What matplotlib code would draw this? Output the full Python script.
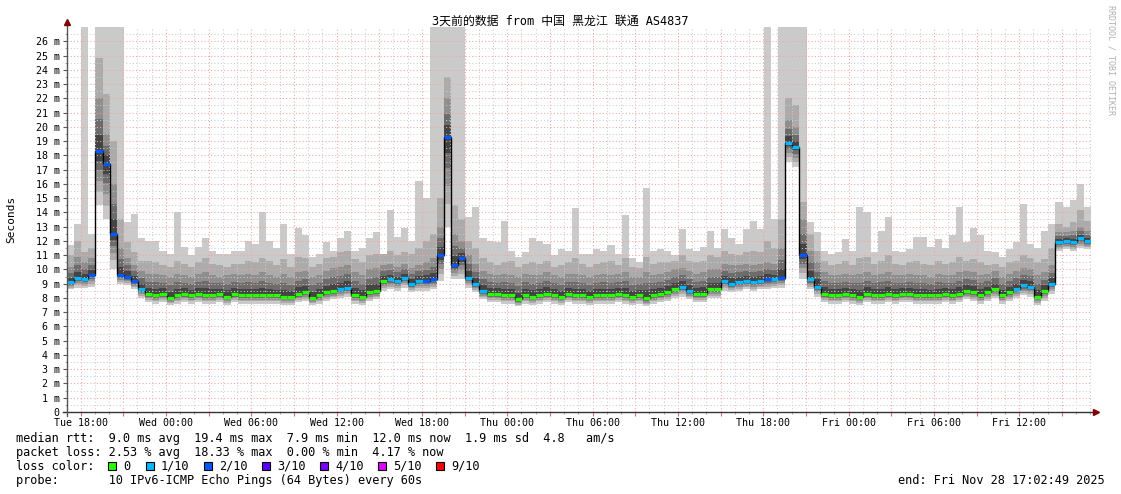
import matplotlib
matplotlib.use("Agg")
import matplotlib.pyplot as plt
from matplotlib.patches import Rectangle
import numpy as np
from datetime import datetime, timedelta

# ---------------- data ----------------
TITLE = "3天前的数据 from 中国 黑龙江 联通 AS4837"
END_TIME = datetime(2025, 11, 28, 17, 2, 49)
SPAN_HOURS = 72
STEP_MIN = 30

# median rtt per 30-min step (ms)
rtt_median = [
    9.1, 9.4, 9.3, 9.6, 18.3, 17.4, 12.5, 9.6, 9.5, 9.2, 8.6, 8.3,
    8.2, 8.3, 8.0, 8.2, 8.3, 8.2, 8.3, 8.2, 8.2, 8.3, 8.1, 8.3,
    8.2, 8.2, 8.2, 8.2, 8.2, 8.2, 8.1, 8.1, 8.3, 8.4, 8.0, 8.2,
    8.4, 8.5, 8.6, 8.7, 8.2, 8.1, 8.4, 8.5, 9.2, 9.3, 9.2, 9.4,
    9.0, 9.2, 9.2, 9.3, 11.0, 19.3, 10.3, 10.8, 9.4, 9.0, 8.5, 8.3,
    8.3, 8.2, 8.2, 7.9, 8.2, 8.1, 8.2, 8.3, 8.2, 8.1, 8.3, 8.2,
    8.2, 8.1, 8.2, 8.2, 8.2, 8.3, 8.2, 8.1, 8.2, 8.0, 8.2, 8.3,
    8.4, 8.6, 8.8, 8.5, 8.3, 8.3, 8.6, 8.6, 9.2, 9.0, 9.1, 9.2,
    9.1, 9.2, 9.3, 9.3, 9.4, 18.9, 18.6, 11.0, 9.3, 8.8, 8.3, 8.2,
    8.2, 8.3, 8.2, 8.1, 8.3, 8.2, 8.2, 8.3, 8.2, 8.3, 8.3, 8.2,
    8.2, 8.2, 8.2, 8.3, 8.2, 8.3, 8.5, 8.4, 8.2, 8.4, 8.6, 8.2,
    8.4, 8.6, 8.9, 8.8, 8.1, 8.5, 9.0, 11.9, 12.0, 11.9, 12.2, 12.0,
]
# pings lost out of 10 per step
loss_count = [
    1, 1, 1, 2, 2, 2, 2, 2, 2, 2, 1, 0,
    0, 0, 0, 0, 0, 0, 0, 0, 0, 0, 0, 0,
    0, 0, 0, 0, 0, 0, 0, 0, 0, 0, 0, 0,
    0, 0, 1, 1, 0, 0, 0, 0, 0, 1, 1, 1,
    1, 1, 2, 2, 2, 2, 2, 2, 1, 1, 1, 0,
    0, 0, 0, 0, 0, 0, 0, 0, 0, 0, 0, 0,
    0, 0, 0, 0, 0, 0, 0, 0, 0, 0, 0, 0,
    0, 0, 1, 1, 0, 0, 0, 0, 1, 1, 1, 1,
    1, 1, 2, 1, 2, 1, 1, 2, 1, 1, 0, 0,
    0, 0, 0, 0, 0, 0, 0, 0, 0, 0, 0, 0,
    0, 0, 0, 0, 0, 0, 0, 0, 0, 0, 0, 0,
    0, 1, 1, 1, 0, 0, 1, 1, 1, 1, 1, 1,
]
# fastest ping per step
rtt_min = [
    8.6, 8.7, 8.7, 8.8, 14.5, 13.5, 10.0, 9.0, 8.9, 8.6, 8.0, 7.7,
    7.6, 7.7, 7.5, 7.6, 7.7, 7.6, 7.7, 7.6, 7.6, 7.7, 7.5, 7.7,
    7.6, 7.6, 7.6, 7.6, 7.6, 7.6, 7.5, 7.5, 7.7, 7.8, 7.5, 7.6,
    7.8, 7.9, 8.0, 8.1, 7.6, 7.5, 7.8, 7.9, 8.5, 8.6, 8.5, 8.7,
    8.4, 8.5, 8.5, 8.6, 9.2, 13.0, 9.3, 9.3, 8.7, 8.4, 7.9, 7.7,
    7.7, 7.6, 7.6, 7.4, 7.6, 7.5, 7.6, 7.7, 7.6, 7.5, 7.7, 7.6,
    7.6, 7.5, 7.6, 7.6, 7.6, 7.7, 7.6, 7.5, 7.6, 7.4, 7.6, 7.7,
    7.8, 8.0, 8.1, 7.9, 7.7, 7.7, 8.0, 8.0, 8.5, 8.4, 8.5, 8.6,
    8.5, 8.6, 8.6, 8.7, 8.7, 17.5, 17.2, 9.3, 8.6, 8.1, 7.7, 7.6,
    7.6, 7.7, 7.6, 7.5, 7.7, 7.6, 7.6, 7.7, 7.6, 7.7, 7.7, 7.6,
    7.6, 7.6, 7.6, 7.7, 7.6, 7.7, 7.9, 7.8, 7.6, 7.8, 8.0, 7.6,
    7.8, 8.0, 8.2, 8.1, 7.5, 7.8, 8.3, 11.3, 11.4, 11.3, 11.5, 11.4,
]
# 8th of 10 sorted pings
rtt_p80 = [
    10.2, 10.9, 10.5, 10.8, 22.0, 19.5, 16.0, 11.5, 10.8, 10.3, 9.9, 9.7,
    9.7, 9.6, 9.5, 9.7, 9.6, 9.5, 9.7, 9.8, 9.6, 9.5, 9.6, 9.7,
    9.6, 9.7, 9.6, 9.8, 9.6, 9.5, 9.7, 9.5, 9.8, 9.9, 9.5, 9.6,
    9.9, 10.1, 10.2, 10.3, 9.8, 9.6, 10.0, 10.1, 10.3, 10.4, 10.2, 10.4,
    10.1, 10.3, 10.5, 10.8, 13.0, 22.0, 12.5, 12.0, 11.0, 10.4, 9.9, 9.7,
    9.6, 9.7, 9.6, 9.5, 9.7, 9.6, 9.6, 9.8, 9.6, 9.5, 9.7, 9.7,
    9.6, 9.5, 9.6, 9.7, 9.6, 9.7, 9.8, 9.5, 9.5, 9.8, 9.6, 9.7,
    9.8, 10.0, 10.1, 9.9, 9.7, 9.8, 10.0, 10.0, 10.4, 10.3, 10.3, 10.4,
    10.3, 10.4, 10.5, 10.4, 11.5, 20.5, 20.0, 13.5, 11.3, 10.5, 9.8, 9.6,
    9.6, 9.7, 9.6, 9.7, 9.8, 9.6, 9.7, 9.8, 9.6, 9.6, 9.7, 9.6,
    9.6, 9.5, 9.7, 9.6, 9.6, 9.8, 9.9, 9.8, 9.6, 9.7, 9.9, 9.5,
    9.7, 9.9, 10.1, 10.0, 9.6, 9.8, 10.3, 12.6, 12.6, 12.7, 13.0, 12.7,
]
# 9th of 10 sorted pings
rtt_p90 = [
    11.0, 12.0, 11.2, 11.5, 24.8, 22.3, 19.0, 13.5, 11.9, 11.2, 10.6, 10.6,
    10.5, 10.3, 10.2, 10.6, 10.4, 10.2, 10.5, 10.8, 10.4, 10.3, 10.2, 10.4,
    10.4, 10.6, 10.5, 10.8, 10.6, 10.3, 10.7, 10.2, 10.9, 10.8, 10.2, 10.4,
    10.8, 10.9, 11.2, 11.3, 10.7, 10.5, 11.0, 11.1, 11.1, 11.3, 11.0, 11.2,
    11.1, 11.5, 12.0, 12.5, 15.0, 23.5, 14.5, 13.5, 12.0, 11.5, 10.8, 10.5,
    10.3, 10.5, 10.6, 10.2, 10.4, 10.5, 10.4, 10.6, 10.2, 10.3, 10.5, 10.8,
    10.4, 10.2, 10.4, 10.5, 10.6, 10.3, 10.8, 10.2, 10.1, 10.9, 10.4, 10.5,
    10.5, 10.6, 11.0, 10.6, 10.5, 10.6, 11.0, 10.9, 11.3, 11.1, 11.0, 11.2,
    11.3, 11.2, 12.0, 11.5, 13.5, 22.0, 21.5, 14.7, 12.5, 11.3, 10.6, 10.3,
    10.4, 10.6, 10.3, 10.8, 10.9, 10.4, 10.6, 11.0, 10.4, 10.3, 10.5, 10.6,
    10.4, 10.3, 10.6, 10.4, 10.5, 10.9, 10.6, 10.7, 10.5, 10.3, 10.4, 10.2,
    10.5, 10.6, 11.0, 10.8, 10.5, 10.7, 11.5, 13.2, 13.0, 13.3, 14.2, 13.4,
]
# slowest ping per step (27 = off the top of the graph)
rtt_max = [
    11.7, 13.2, 27, 12.5, 27, 27, 27, 27, 13.3, 13.9, 12.2, 12.0,
    12.0, 11.3, 11.1, 14.0, 11.6, 11.0, 11.6, 12.2, 11.3, 11.1, 11.1, 11.3,
    11.3, 12.0, 11.8, 14.0, 12.0, 11.5, 13.2, 11.1, 12.9, 12.4, 10.9, 11.1,
    11.9, 11.3, 12.2, 12.7, 11.3, 11.5, 12.2, 12.6, 11.1, 14.2, 12.3, 12.9,
    12.0, 16.2, 15.0, 27, 27, 27, 27, 27, 13.7, 14.4, 12.2, 12.0,
    11.9, 13.4, 11.3, 10.9, 11.2, 12.2, 12.0, 11.8, 11.0, 11.4, 11.3, 14.3,
    11.1, 11.1, 11.4, 11.3, 11.7, 11.1, 13.8, 10.8, 10.5, 15.7, 11.3, 11.4,
    11.3, 11.0, 12.8, 11.4, 11.3, 11.6, 12.7, 11.5, 12.8, 12.2, 11.8, 12.8,
    13.4, 12.8, 27, 13.5, 27, 27, 27, 27, 13.3, 12.6, 11.3, 11.1,
    11.2, 12.1, 11.3, 14.4, 14.0, 11.2, 12.7, 13.7, 11.3, 11.2, 11.4, 12.3,
    12.3, 11.6, 12.1, 11.5, 12.4, 14.4, 11.9, 12.9, 12.4, 11.3, 11.2, 10.9,
    11.4, 11.9, 14.6, 11.8, 11.5, 12.7, 13.2, 14.7, 14.4, 14.9, 16.0, 14.4,
]

x_tick_labels = ["Tue 18:00", "Wed 00:00", "Wed 06:00", "Wed 12:00", "Wed 18:00",
                 "Thu 00:00", "Thu 06:00", "Thu 12:00", "Thu 18:00",
                 "Fri 00:00", "Fri 06:00", "Fri 12:00"]
y_ticks = list(range(0, 27))

loss_labels = ["0", "1/10", "2/10", "3/10", "4/10", "5/10", "9/10"]
loss_colors = ["#26ff00", "#00b8ff", "#0059ff", "#5e00ff", "#7e00ff", "#dd00ff", "#ff0000"]
loss_level_of_count = {0: 0, 1: 1, 2: 2, 3: 3, 4: 4, 5: 5}

legend_rtt = "median rtt:  9.0 ms avg  19.4 ms max  7.9 ms min  12.0 ms now  1.9 ms sd  4.8   am/s"
legend_loss = "packet loss: 2.53 % avg  18.33 % max  0.00 % min  4.17 % now"
legend_probe = "probe:       10 IPv6-ICMP Echo Pings (64 Bytes) every 60s"
legend_end = "end: Fri Nov 28 17:02:49 2025"

# ---------------- figure ----------------
plt.rcParams['font.family'] = ['DejaVu Sans Mono', 'Noto Sans CJK SC']
plt.rcParams['lines.scale_dashes'] = False

W, H = 1121, 494
fig = plt.figure(figsize=(W / 100, H / 100), dpi=100)
fig.patch.set_facecolor("white")
PL, PR, PT, PB = 67, 1091, 27, 412
ax = fig.add_axes([PL / W, 1 - PB / H, (PR - PL) / W, (PB - PT) / H])
YMAX = 27.0
ax.set_xlim(0, SPAN_HOURS)
ax.set_ylim(0, YMAX)
for s in ax.spines.values():
    s.set_visible(False)

n = len(rtt_median)
edges = np.arange(n + 1) * STEP_MIN / 60.0
med = np.array(rtt_median, float)
mn = np.array(rtt_min, float)
p80 = np.array(rtt_p80, float)
p90 = np.array(rtt_p90, float)
mx = np.minimum(np.array(rtt_max, float), YMAX)

# smoke bands (outer = light, inner = dark)
lo2 = mn + 0.25 * (med - mn)
lo3 = mn + 0.45 * (med - mn)
lo4 = mn + 0.65 * (med - mn)
up2 = med + 0.6 * (p80 - med)
up1 = med + 0.3 * (p80 - med)
bands = [
    (mn, mx, "#cacaca"),
    (lo2, p90, "#ababab"),
    (lo3, p80, "#8e8e8e"),
    (lo4, up2, "#6c6c6c"),
    (lo4 + 0.5 * (med - lo4), up1, "#444444"),
]
for lo, hi, c in bands:
    ax.stairs(hi, edges, baseline=lo, fill=True, color=c, lw=0, zorder=1)

# grid
start = END_TIME - timedelta(hours=SPAN_HOURS)
first_hour = (start.replace(minute=0, second=0) + timedelta(hours=1))
hour_pos, hour_val = [], []
t = first_hour
while t < END_TIME:
    hour_pos.append((t - start).total_seconds() / 3600.0)
    hour_val.append(t.hour)
    t += timedelta(hours=1)
dots = (0, (0.75, 1.6))
GRID_C = "#cdcdcd"
MGRID_C = "#f3a3a3"
for hp, hv in zip(hour_pos, hour_val):
    ax.axvline(hp, color=MGRID_C if hv % 3 == 0 else GRID_C, lw=0.75, ls=dots,
               zorder=2)
for yv in np.arange(0.5, YMAX, 1.0):
    ax.axhline(yv, color=GRID_C, lw=0.75, ls=dots, zorder=2)
for yv in y_ticks[1:]:
    ax.axhline(yv, color=MGRID_C, lw=0.75, ls=dots, zorder=2)

# median line + loss colour
ax.stairs(med, edges, baseline=None, color="black", lw=1.0, zorder=3)
seg_cols = [loss_colors[loss_level_of_count[c]] for c in loss_count]
ax.hlines(med, edges[:-1], edges[1:], colors=seg_cols, lw=2.3, zorder=4,
          capstyle="butt")

# axes lines and arrows
ax.plot([-4 / 1024, 1.0034], [0, 0], transform=ax.transAxes, color="#333333",
        lw=1.0, clip_on=False, zorder=5)
ax.plot([0, 0], [-4 / 385, 1.01], transform=ax.transAxes, color="#555555",
        lw=1.0, clip_on=False, zorder=5)
ax.plot([0], [1.012], marker="^", ms=5, color="#7f0000", transform=ax.transAxes,
        clip_on=False, zorder=6)
ax.plot([1.0045], [0], marker=">", ms=5, color="#7f0000", transform=ax.transAxes,
        clip_on=False, zorder=6)

# ticks
major_x = [hp for hp, hv in zip(hour_pos, hour_val) if hv % 3 == 0]
major_lbl = []
k = 0
for hp, hv in zip(hour_pos, hour_val):
    if hv % 3 == 0:
        if hv % 6 == 0 and k < len(x_tick_labels):
            major_lbl.append(x_tick_labels[k]); k += 1
        else:
            major_lbl.append("")
ax.set_xticks(major_x)
ax.set_xticklabels(major_lbl)
ax.set_xticks(hour_pos, minor=True)
ax.set_yticks(y_ticks)
ax.set_yticklabels(["0"] + [f"{v} m" for v in y_ticks[1:]])
ax.set_yticks(np.arange(0.5, YMAX, 1.0), minor=True)
ax.tick_params(axis="x", which="major", length=3, width=0.8, color="#e07070",
               pad=1.5, labelsize=7.2)
ax.tick_params(axis="x", which="minor", length=1.5, width=0.8, color="#aaaaaa")
ax.tick_params(axis="y", which="major", length=3, width=0.8, color="#555555",
               pad=2.2, labelsize=7.2)
ax.tick_params(axis="y", which="minor", length=1.5, width=0.8, color="#aaaaaa")

# texts
def ftext(x, y, s, **kw):
    fig.text(x / W, 1 - y / H, s, **kw)

ftext(560, 21, TITLE, ha="center", va="center", fontsize=8.6)
ftext(11, 219, "Seconds", ha="center", va="center", rotation=90, fontsize=8)
ftext(1111, 60, "RRDTOOL / TOBI OETIKER", ha="center", va="center",
      rotation=270, fontsize=6.0, color="#b0b0b0")

LEG_FS = 8.55
ftext(16, 438, legend_rtt, ha="left", va="center", fontsize=LEG_FS)
ftext(16, 452, legend_loss, ha="left", va="center", fontsize=LEG_FS)
ftext(16, 466, "loss color:", ha="left", va="center", fontsize=LEG_FS)
ftext(16, 480, legend_probe, ha="left", va="center", fontsize=LEG_FS)
ftext(1105, 480, legend_end, ha="right", va="center", fontsize=LEG_FS)

sq_x = [108, 146, 204, 262, 320, 378, 436]
for sx, lab, col in zip(sq_x, loss_labels, loss_colors):
    fig.patches.append(Rectangle((sx / W, 1 - 470 / H), 8 / W, 8 / H,
                                 transform=fig.transFigure, facecolor=col,
                                 edgecolor="black", lw=0.8))
    ftext(sx + 15, 466, lab, ha="left", va="center", fontsize=LEG_FS)

fig.savefig("out.png", dpi=100, facecolor="white")
